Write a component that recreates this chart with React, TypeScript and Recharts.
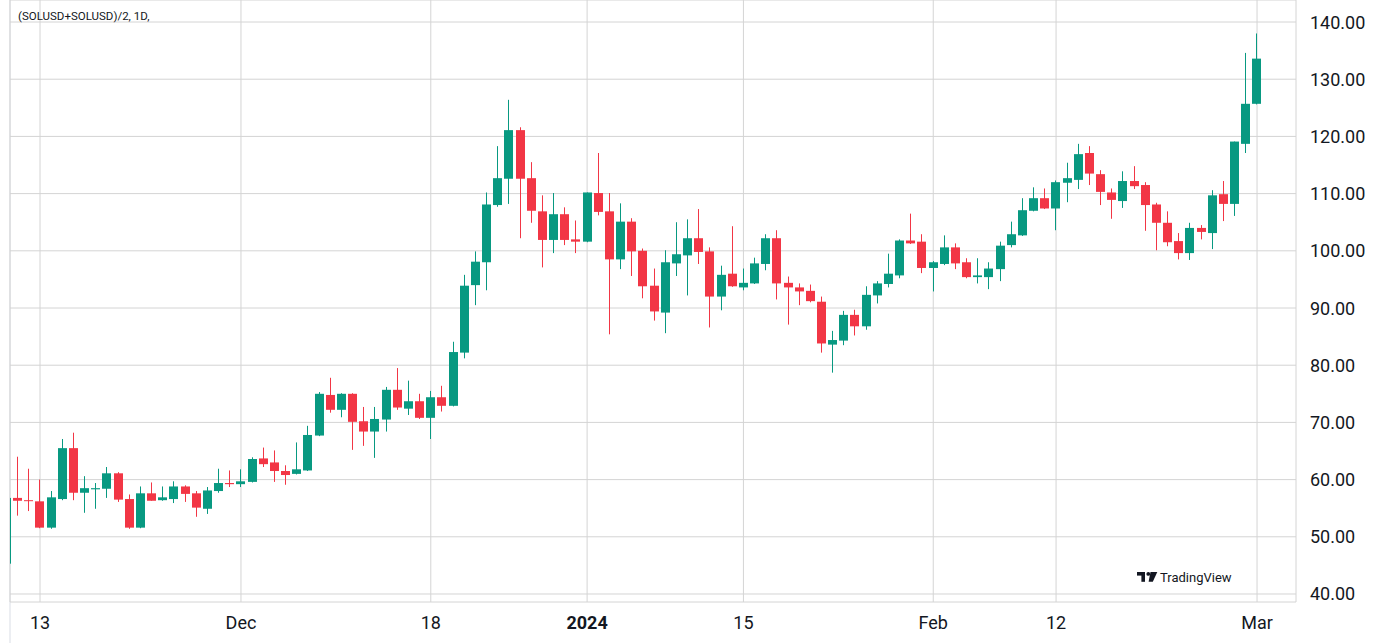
import React from 'react';
import { ComposedChart, Bar, XAxis, YAxis, CartesianGrid } from 'recharts';

const UP = '#089981';
const DOWN = '#f23645';
const TEXT = '#131722';

// daily candles, first one is Nov 10 2023 (day 0 = Nov 13)
const FIRST_DAY = -3;

const opens = [
  45.3, 56.8, 56.4, 56.2, 51.6, 56.6, 65.5, 57.7, 58.3, 58.4, 61.1, 56.6, 51.6, 57.6, 56.4, 56.6,
  58.8, 57.6, 54.9, 58.0, 59.4, 59.2, 59.6, 63.7, 63.0, 61.5, 61.0, 61.6, 67.7, 74.8, 72.2, 75.0,
  70.2, 68.4, 70.5, 75.7, 72.4, 73.7, 70.8, 74.4, 72.9, 82.2, 94.0, 98.0, 108.0, 112.6, 121.1, 112.7,
  106.9, 101.9, 106.4, 102.0, 101.6, 110.1, 106.9, 98.5, 105.1, 100.0, 93.9, 89.2, 97.8, 99.2, 102.2, 99.9,
  92.0, 96.0, 93.6, 94.3, 97.7, 102.2, 94.4, 93.6, 93.0, 91.1, 83.6, 84.3, 88.8, 86.8, 92.2, 94.2,
  95.7, 101.8, 101.6, 97.0, 97.7, 100.6, 98.0, 95.4, 95.4, 96.8, 101.0, 102.7, 107.0, 109.2, 107.4, 111.9,
  112.4, 117.1, 113.4, 110.2, 108.7, 112.2, 111.5, 108.1, 104.9, 101.7, 99.6, 104.0, 103.1, 109.9, 108.2, 118.7,
  125.7,
];
const highs = [
  57.5, 64.0, 61.9, 60.0, 58.0, 67.1, 68.2, 60.6, 59.4, 62.2, 61.3, 57.4, 58.8, 59.5, 58.8, 59.7,
  59.0, 58.0, 58.7, 61.9, 61.6, 61.8, 63.9, 65.6, 65.1, 62.5, 66.5, 69.4, 75.3, 77.8, 75.1, 75.1,
  72.7, 72.7, 76.2, 79.5, 77.3, 75.0, 75.5, 76.4, 84.1, 95.8, 99.9, 110.2, 118.3, 126.4, 121.6, 115.5,
  109.7, 110.1, 107.6, 105.3, 110.2, 117.1, 110.1, 108.3, 105.7, 100.4, 96.9, 100.1, 105.0, 105.5, 107.3, 100.6,
  97.4, 104.3, 96.9, 98.8, 102.9, 103.6, 95.5, 94.3, 94.1, 92.0, 86.0, 89.5, 89.7, 93.8, 94.7, 99.5,
  102.0, 106.5, 102.9, 98.2, 102.7, 101.3, 98.7, 98.7, 98.0, 101.6, 105.1, 109.2, 111.1, 110.9, 112.3, 115.4,
  118.7, 118.3, 114.1, 110.9, 113.9, 114.8, 112.0, 108.4, 106.9, 103.1, 104.9, 104.5, 110.6, 112.2, 119.1, 134.6,
  138.0,
];
const lows = [
  44.5, 53.7, 54.5, 51.5, 51.4, 56.4, 56.4, 54.2, 54.9, 56.8, 56.1, 51.4, 51.5, 56.3, 56.3, 55.9,
  56.1, 53.5, 54.0, 57.7, 58.7, 58.7, 59.5, 62.2, 59.6, 59.1, 60.9, 61.5, 67.6, 71.7, 70.9, 65.2,
  65.9, 63.8, 68.4, 72.2, 71.3, 70.6, 67.1, 71.9, 72.8, 81.2, 90.5, 93.1, 107.7, 108.2, 102.2, 104.9,
  97.1, 99.6, 101.0, 99.6, 101.5, 106.2, 85.4, 96.8, 95.6, 91.7, 87.8, 85.6, 95.6, 92.2, 97.7, 86.6,
  89.6, 93.7, 93.1, 94.2, 96.6, 91.5, 87.1, 90.5, 91.0, 82.2, 78.7, 83.5, 85.2, 86.2, 90.8, 93.6,
  95.2, 101.2, 96.1, 92.9, 97.5, 96.8, 95.2, 94.3, 93.3, 94.7, 100.6, 102.6, 106.9, 107.3, 103.6, 108.5,
  110.8, 111.5, 108.0, 105.6, 107.5, 110.8, 103.5, 100.1, 100.8, 98.5, 98.4, 102.0, 100.3, 105.2, 106.1, 117.1,
  125.6,
];
const closes = [
  56.8, 56.3, 56.3, 51.6, 56.9, 65.5, 57.7, 58.5, 58.5, 61.1, 56.5, 51.6, 57.6, 56.3, 56.9, 58.8,
  57.5, 55.1, 58.1, 59.4, 59.2, 59.7, 63.6, 62.7, 61.5, 60.8, 61.8, 67.8, 75.0, 72.2, 75.0, 70.1,
  68.4, 70.6, 75.7, 72.6, 73.7, 70.8, 74.4, 72.9, 82.3, 93.9, 98.1, 108.1, 112.7, 121.1, 112.6, 107.0,
  101.9, 106.4, 101.9, 101.6, 110.2, 106.8, 98.5, 105.1, 99.9, 93.8, 89.4, 98.0, 99.4, 102.2, 99.8, 92.0,
  95.8, 93.8, 94.4, 97.8, 102.2, 94.3, 93.6, 92.9, 91.2, 83.8, 84.4, 88.8, 86.8, 92.3, 94.3, 96.0,
  101.8, 101.3, 97.0, 98.0, 100.6, 97.8, 95.4, 95.7, 96.9, 100.9, 102.9, 107.1, 109.2, 107.4, 112.0, 112.7,
  116.9, 113.5, 110.3, 108.9, 112.2, 111.3, 108.0, 104.9, 101.5, 99.6, 104.0, 103.3, 109.7, 108.2, 119.1, 125.7,
  133.6,
];

const tickDays = [0, 18, 35, 49, 63, 80, 91, 109];
const tickLabels = ['13', 'Dec', '18', '2024', '15', 'Feb', '12', 'Mar'];
const priceTicks = [40, 50, 60, 70, 80, 90, 100, 110, 120, 130, 140];

const data = opens.map((open, i) => ({
  day: FIRST_DAY + i,
  open,
  high: highs[i],
  low: lows[i],
  close: closes[i],
  range: [lows[i], highs[i]],
}));

// candle drawn from the range bar the library positions (low..high)
const Candle = (props: any) => {
  const { x, y, width, height, payload } = props;
  if (x == null || y == null || !payload) return null;
  const { open, close, high, low } = payload;
  const top = Math.min(y, y + height);
  const span = Math.abs(height);
  const k = span / (high - low);
  const py = (v: number) => top + (high - v) * k;
  const color = close >= open ? UP : DOWN;
  const bx = Math.round(x);
  const w = Math.round(width);
  const bodyTop = py(Math.max(open, close));
  const bodyH = Math.max(py(Math.min(open, close)) - bodyTop, 1);
  return (
    <g>
      <rect x={bx + Math.floor(w / 2)} y={top} width={1} height={span} fill={color} />
      <rect x={bx} y={bodyTop} width={w} height={bodyH} fill={color} />
    </g>
  );
};

const XTick = (props: any) => {
  const { x, y, payload } = props;
  const label = tickLabels[tickDays.indexOf(payload.value)] ?? '';
  return (
    <text
      x={x}
      y={y + 21}
      textAnchor="middle"
      fill={TEXT}
      fontSize={18}
      fontFamily="Roboto, sans-serif"
      fontWeight={label === '2024' ? 700 : 400}
    >
      {label}
    </text>
  );
};

const YTick = (props: any) => {
  const { x, y, payload } = props;
  return (
    <text x={x + 8} y={y + 6.5} textAnchor="start" fill={TEXT} fontSize={18} fontFamily="Roboto, sans-serif">
      {Number(payload.value).toFixed(2)}
    </text>
  );
};

export default function App() {
  return (
    <div
      style={{
        position: 'fixed',
        left: 0,
        top: 0,
        width: 1375,
        height: 643,
        background: '#fff',
        fontFamily: 'Roboto, sans-serif',
      }}
    >
      {/* pane edge sits under the chart so the clipped first candle shows */}
      <div style={{ position: 'absolute', left: 9, top: 0, width: 2, height: 643, background: '#eceef2' }} />
      <div style={{ position: 'absolute', left: 0, top: 0 }}>
        <ComposedChart width={1375} height={643} data={data} margin={{ top: 0, right: 0, bottom: 0, left: 10 }}>
          <CartesianGrid stroke="#d4d4d4" />
          <XAxis
            dataKey="day"
            type="number"
            domain={[-2.687, 112.49]}
            allowDataOverflow
            ticks={tickDays}
            interval={0}
            tick={<XTick />}
            axisLine={false}
            tickLine={false}
            tickSize={6}
            tickMargin={0}
            height={41}
          />
          <YAxis
            orientation="right"
            type="number"
            domain={[38.6, 143.85]}
            allowDataOverflow
            ticks={priceTicks}
            interval={0}
            tick={<YTick />}
            axisLine={false}
            tickLine={false}
            tickSize={6}
            tickMargin={0}
            width={79}
          />
          <Bar dataKey="range" barSize={9} shape={<Candle />} isAnimationActive={false} />
        </ComposedChart>
      </div>

      <svg
        width={1375}
        height={643}
        style={{ position: 'absolute', left: 0, top: 0, pointerEvents: 'none' }}
      >
        <text x={18} y={20} fontSize={11.5} fill={TEXT} fontFamily="Roboto, sans-serif">
          (SOLUSD+SOLUSD)/2, 1D,
        </text>
        <g fill={TEXT}>
          <rect x={1137} y={572} width={8} height={3.6} />
          <rect x={1141.4} y={572} width={3.6} height={9.8} />
          <circle cx={1148.3} cy={573.9} r={1.9} />
          <polygon points="1150.5,572 1157.3,572 1152.8,581.8 1148.6,581.8" />
        </g>
        <text x={1160} y={581.5} fontSize={13} fill={TEXT} fontFamily="Roboto, sans-serif">
          TradingView
        </text>
      </svg>
    </div>
  );
}
